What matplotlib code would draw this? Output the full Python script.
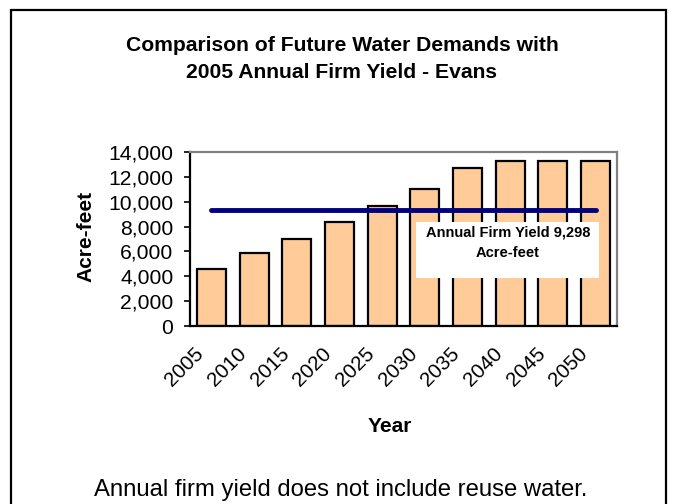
import matplotlib
matplotlib.use('Agg')
import matplotlib.pyplot as plt
from matplotlib.patches import Rectangle
from matplotlib.ticker import FuncFormatter
from matplotlib.transforms import ScaledTranslation

plt.rcParams['font.family'] = ['Liberation Sans', 'DejaVu Sans']

# data
years = ['2005', '2010', '2015', '2020', '2025', '2030', '2035', '2040', '2045', '2050']
demand = [4600, 5850, 6970, 8400, 9650, 11050, 12740, 13250, 13250, 13250]
firm_yield = 9298

fig = plt.figure(figsize=(6.73, 5.04), dpi=100)

# outer border around the whole chart
fig.patches.append(Rectangle((11 / 673, -0.05), 655 / 673, 1.05 - 10 / 504,
                             transform=fig.transFigure, fill=False,
                             edgecolor='black', linewidth=1.6))

ax = fig.add_axes([190 / 673, 1 - 326 / 504, 427 / 673, 174 / 504])
x = list(range(len(years)))
ax.bar(x, demand, width=0.68, color='#FFCC99', edgecolor='black', linewidth=1.6, zorder=2)
ax.plot([x[0], x[-1]], [firm_yield, firm_yield], color='#000080', linewidth=3.5,
        solid_capstyle='round', zorder=3)

ax.set_xlim(-0.5, len(years) - 0.5)
ax.set_ylim(0, 14000)
ax.set_yticks(range(0, 14001, 2000))
ax.yaxis.set_major_formatter(FuncFormatter(lambda v, p: f'{int(v):,}'))
ax.tick_params(axis='y', direction='out', length=4, width=1.2, labelsize=15.2, pad=8)
ax.set_xticks(x)
ax.set_xticklabels(years, rotation=45, ha='right', va='top')
ax.tick_params(axis='x', length=0, labelsize=14.8, pad=13)
shift = ScaledTranslation(-4 / 100, 0, fig.dpi_scale_trans)
for lab in ax.get_xticklabels():
    lab.set_transform(lab.get_transform() + shift)

for s in ['top', 'right']:
    ax.spines[s].set_color('#808080')
    ax.spines[s].set_linewidth(1.6)
for s in ['left', 'bottom']:
    ax.spines[s].set_color('black')
    ax.spines[s].set_linewidth(1.6)

# label box for the firm yield line
ax.add_patch(Rectangle((4.79, 3862), 4.29, 4529, facecolor='white', edgecolor='none', zorder=3.5))
ax.text(6.94, 6680, 'Annual Firm Yield 9,298\nAcre-feet', ha='center', va='center',
        fontsize=10.5, fontweight='bold', linespacing=1.55, zorder=4)

fig.text(342 / 673, 1 - 59 / 504, 'Comparison of Future Water Demands with\n2005 Annual Firm Yield - Evans',
         ha='center', va='center', fontsize=15.2, fontweight='bold', linespacing=1.5)
fig.text(86 / 673, 1 - 236 / 504, 'Acre-feet', rotation=90, ha='center', va='center',
         fontsize=15, fontweight='bold')
fig.text(390 / 673, 1 - 427 / 504, 'Year', ha='center', va='center', fontsize=15, fontweight='bold')
fig.text(341 / 673, 1 - 490 / 504, 'Annual firm yield does not include reuse water.',
         ha='center', va='center', fontsize=17.2)

fig.savefig('out.png', dpi=100)
